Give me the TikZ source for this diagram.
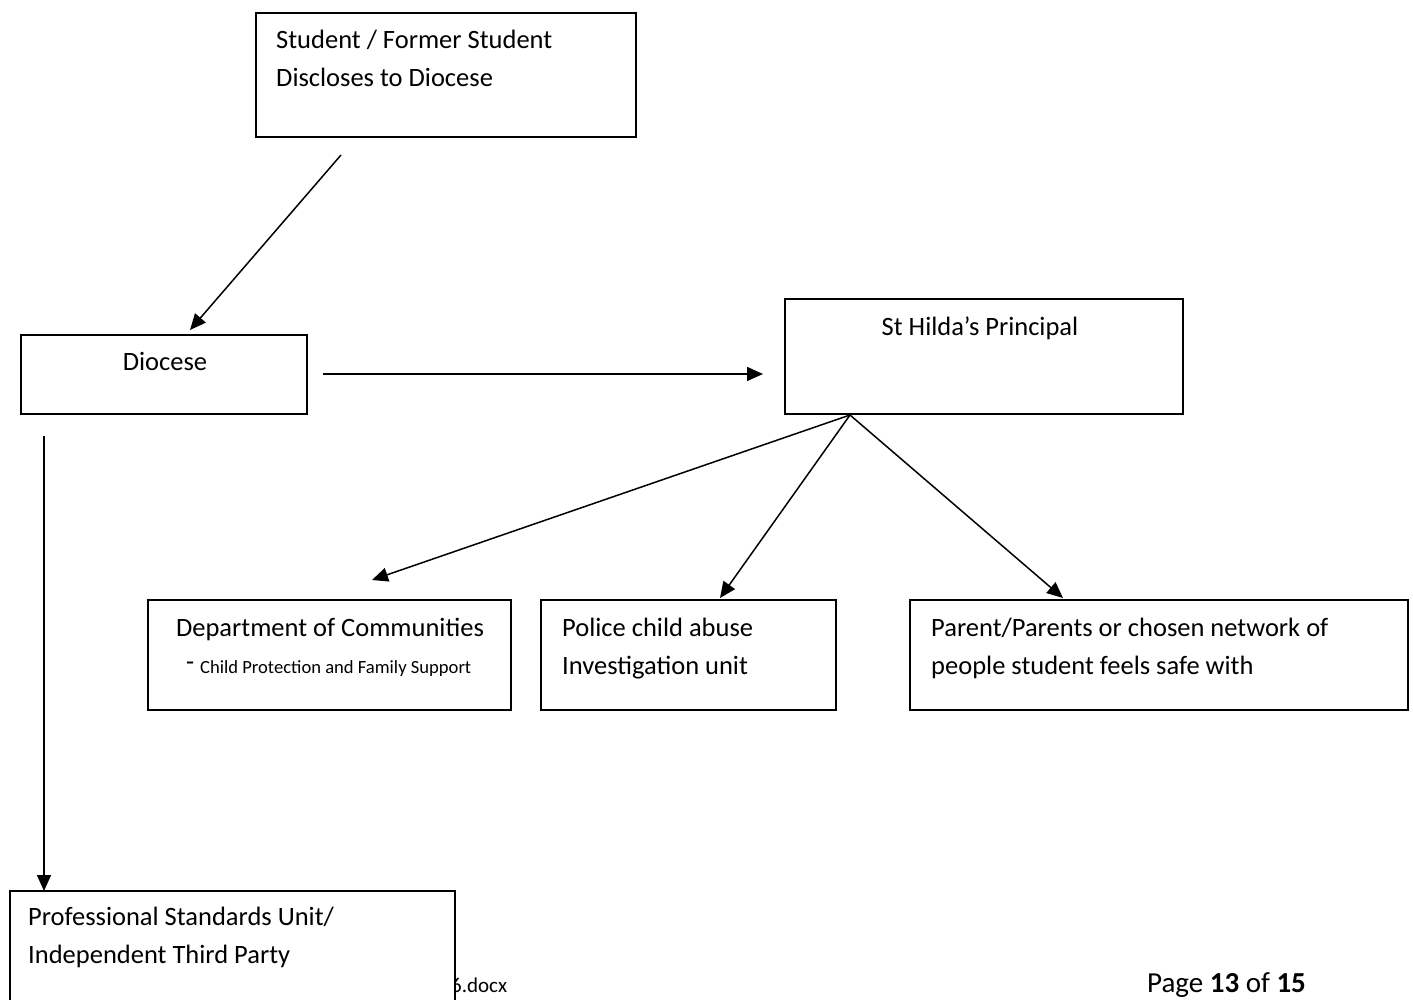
\documentclass[tikz,border=0pt]{standalone}
\usepackage{fontspec}
\setmainfont{Carlito}
\usetikzlibrary{arrows.meta}
\begin{document}
\begin{tikzpicture}[x=1pt,y=-1pt,
  box/.style={draw=black, line width=1.6pt, fill=white},
  txt/.style={font=\fontsize{26.5}{38}\selectfont, inner sep=0pt, align=left},
  arr/.style={line width=1.5pt, -{Triangle[length=16pt,width=14pt]}}]
\useasboundingbox (0,0) rectangle (1413,1000);
% footer
\node[font=\fontsize{21}{24}\selectfont, anchor=west, inner sep=0pt] (file) at (451,985) {6.docx};
\node[font=\fontsize{29}{32}\selectfont, anchor=west, inner sep=0pt] (page) at (1147,985) {Page \textbf{13} of \textbf{15}};
% boxes
\draw[box] (256,13) rectangle (636,137);
\node[txt, anchor=north west] (stud) at (276,30) {Student / Former Student\\Discloses to Diocese};
\draw[box] (21,335) rectangle (307,414);
\node[txt] (dio) at (165,361) {Diocese};
\draw[box] (785,299) rectangle (1183,414);
\node[txt] (pri) at (980,328) {St Hilda’s Principal};
\draw[box] (148,600) rectangle (511,710);
\node[txt] (dep) at (330,629) {Department of Communities};
\node[txt, anchor=west] (dash) at (186,666) {-};
\node[txt, font=\fontsize{18.6}{22}\selectfont, anchor=west] (cp) at (200,669) {Child Protection and Family Support};
\draw[box] (541,600) rectangle (836,710);
\node[txt, anchor=north west] (pol) at (562,618) {Police child abuse\\Investigation unit};
\draw[box] (910,600) rectangle (1408,710);
\node[txt, anchor=north west] (par) at (931,618) {Parent/Parents or chosen network of\\people student feels safe with};
\draw[box] (10,891) rectangle (455,1040);
\node[txt, anchor=north west] (prof) at (28,907) {Professional Standards Unit/\\Independent Third Party};
% connector coordinates
\coordinate (a1) at (341,155);
\coordinate (a1e) at (190,330);
\coordinate (a2) at (323,374);
\coordinate (a2e) at (763,374);
\coordinate (a3) at (44,436);
\coordinate (a3e) at (44,891);
\coordinate (p0) at (850,415);
\coordinate (b1) at (372,580);
\coordinate (b2) at (720,598);
\coordinate (b3) at (1063,598);
\draw[arr] (a1) -- (a1e);
\draw[arr] (a2) -- (a2e);
\draw[arr] (a3) -- (a3e);
\draw[arr] (p0) -- (b1);
\draw[arr] (p0) -- (b2);
\draw[arr] (p0) -- (b3);
\end{tikzpicture}
\end{document}
